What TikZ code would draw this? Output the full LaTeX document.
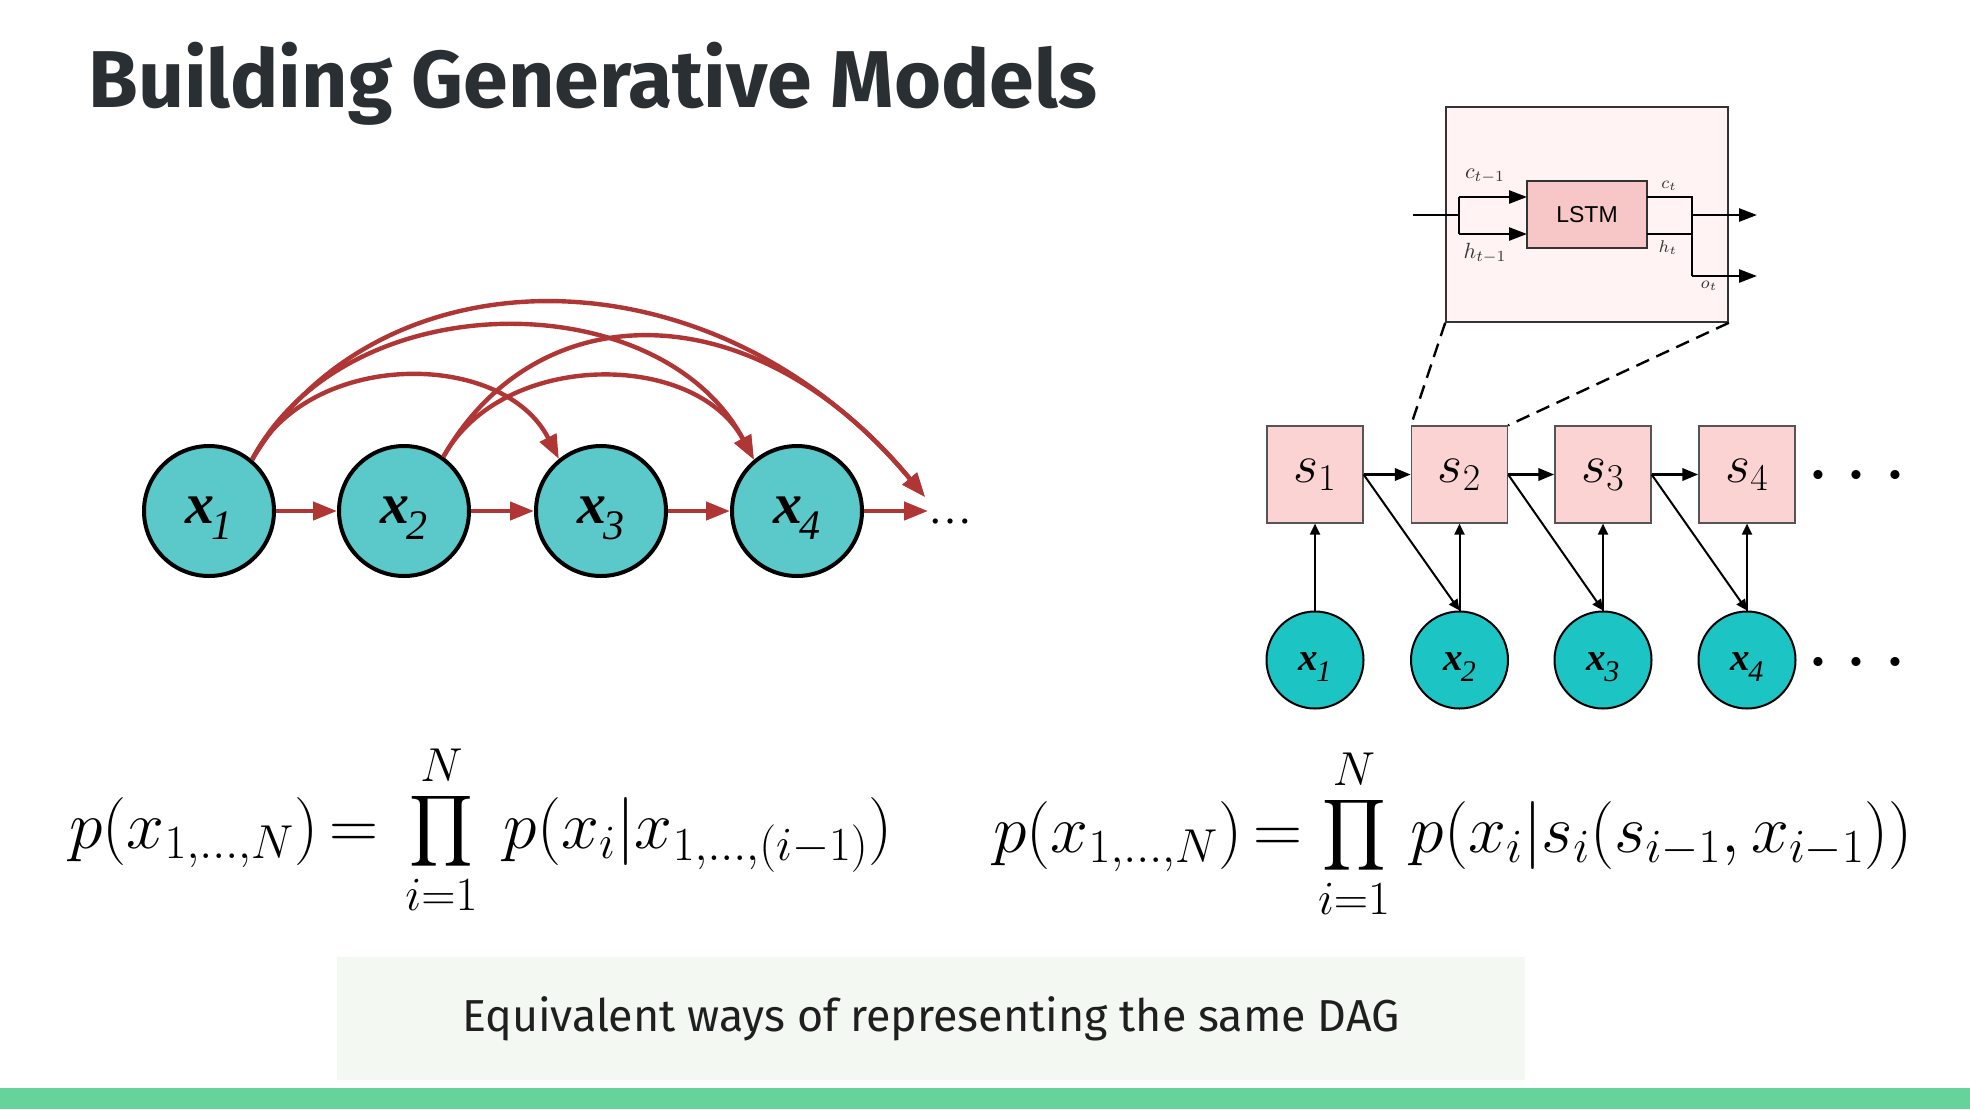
\RequirePackage{fix-cm}
\documentclass[tikz,border=0pt]{standalone}
\usepackage{exscale}
\usepackage{fontspec}
\setsansfont{Fira Sans}
\newfontfamily\tms{Liberation Serif}
\newfontfamily\arl{Liberation Sans}
\usetikzlibrary{arrows.meta}
\definecolor{titlecol}{HTML}{2A2F33}
\definecolor{leftfill}{HTML}{5BC8C9}
\definecolor{arcred}{HTML}{B03535}
\definecolor{rightfill}{HTML}{1DC4C4}
\definecolor{sfill}{HTML}{FBD3D3}
\definecolor{sdraw}{HTML}{555555}
\definecolor{cellfill}{HTML}{FFF3F3}
\definecolor{lstmfill}{HTML}{F7C6C6}
\definecolor{capfill}{HTML}{F3F8F3}
\definecolor{barcol}{HTML}{66D39A}
\newcommand\lx[1]{{\tms\bfseries\itshape\fontsize{29}{29}\selectfont x}\kern-1.5pt\raisebox{-8pt}{\tms\itshape\fontsize{21}{21}\selectfont #1}}
\newcommand\rx[1]{{\tms\bfseries\itshape\fontsize{19.5}{19.5}\selectfont x}\kern-1pt\raisebox{-5.5pt}{\tms\itshape\fontsize{15}{15}\selectfont #1}}
\tikzset{
  lnode/.style={circle, draw=black, line width=2pt, fill=leftfill, minimum size=65pt, inner sep=0pt, text height=18pt, text depth=6pt},
  rnode/.style={circle, draw=black, line width=1pt, fill=rightfill, minimum size=48.5pt, inner sep=0pt, text height=13pt, text depth=3pt},
  sbox/.style={rectangle, draw=sdraw, line width=0.6pt, fill=sfill, minimum width=48pt, minimum height=48.5pt, inner sep=0pt, font=\fontsize{27}{27}\selectfont},
  redarr/.style={draw=arcred, line width=2.2pt, -{Triangle[length=12pt,width=9pt]}, arcred},
  blk/.style={line width=1pt, -{Triangle[length=5.5pt,width=5pt]}},
  blkh/.style={line width=1.6pt, -{Triangle[length=8pt,width=6pt]}},
  lst/.style={line width=1.3pt},
  lstarr/.style={line width=1.3pt, -{Triangle[length=9pt,width=6.5pt]}},
  smlbl/.style={inner sep=0pt, text=black!80, font=\fontsize{11}{11}\selectfont},
  frm/.style={inner sep=0pt, anchor=west, font=\fontsize{34}{34}\selectfont},
}
\begin{document}
\begin{tikzpicture}[x=0.5pt,y=-0.5pt]
\useasboundingbox (0,0) rectangle (1970,1109);
% title
\node[anchor=base west, inner sep=0pt, text=titlecol, font=\sffamily\bfseries\fontsize{40.3}{40.3}\selectfont] (title) at (88,107) {Building Generative Models};

% left graph
\node[lnode] (x1) at (209,511) {\lx{1}};
\node[lnode] (x2) at (404,511) {\lx{2}};
\node[lnode] (x3) at (601,511) {\lx{3}};
\node[lnode] (x4) at (797,511) {\lx{4}};
\node[anchor=base west, inner sep=0pt, font=\tms\fontsize{22}{22}\selectfont] (ldots) at (928,523) {…};
\coordinate (lend) at (925,497);
\draw[redarr] (x1) -- (x2);
\draw[redarr] (x2) -- (x3);
\draw[redarr] (x3) -- (x4);
\draw[redarr] (x4.east) -- (ldots.west |- x4.east);
\draw[redarr] (x1.50) .. controls (308,349) and (503,349) .. (x3.129);
\draw[redarr] (x1.50) .. controls (346,282) and (660,282) .. (x4.130);
\draw[redarr] (x1.50) .. controls (381,245) and (715,245) .. (lend);
\draw[redarr] (x2.54) .. controls (502,350) and (695,350) .. (x4.130);
\draw[redarr] (x2.54) .. controls (538,291) and (755,291) .. (lend);

% right graph
\node[sbox] (s1) at (1315,474.5) {$s_1$};
\node[sbox] (s2) at (1459.5,474.5) {$s_2$};
\node[sbox] (s3) at (1603,474.5) {$s_3$};
\node[sbox] (s4) at (1747,474.5) {$s_4$};
\node[rnode] (r1) at (1315,660) {\rx{1}};
\node[rnode] (r2) at (1459.5,660) {\rx{2}};
\node[rnode] (r3) at (1603,660) {\rx{3}};
\node[rnode] (r4) at (1747,660) {\rx{4}};
\node[anchor=base, inner sep=0pt, font=\fontsize{43}{43}\selectfont] (sdots) at (1857,496.5) {$\cdots$};
\node[anchor=base, inner sep=0pt, font=\fontsize{43}{43}\selectfont] (rdots) at (1857,683.5) {$\cdots$};
\foreach \i in {1,2,3,4} { \draw[blk] (r\i) -- (s\i); }
\draw[blkh] (s1) -- (s2);
\draw[blkh] (s2) -- (s3);
\draw[blkh] (s3) -- (s4);
\draw[blk] (s1.east) -- (r2.north);
\draw[blk] (s2.east) -- (r3.north);
\draw[blk] (s3.east) -- (r4.north);

% LSTM cell
\node[rectangle, draw=black!80, line width=0.8pt, fill=cellfill, minimum width=141pt, minimum height=107.5pt, inner sep=0pt] (cell) at (1587,214.5) {};
\node[rectangle, draw=black!80, line width=0.8pt, fill=lstmfill, minimum width=60pt, minimum height=33.5pt, inner sep=0pt, font=\arl\fontsize{11.5}{11.5}\selectfont] (lstm) at (1587,214.5) {LSTM};
\draw[dashed, line width=1.2pt, dash pattern=on 7pt off 4pt] (cell.south west) -- (s2.north west);
\draw[dashed, line width=1.2pt, dash pattern=on 7pt off 4pt] (cell.south east) -- (s2.north east);
\coordinate (inS) at (1413,215);
\coordinate (jn) at (1459,215);
\coordinate (jc) at (1459,197);
\coordinate (jh) at (1459,234);
\coordinate (ce) at (1527,197);
\coordinate (he) at (1527,234);
\coordinate (oc) at (1647,197);
\coordinate (oh) at (1647,234);
\coordinate (vc) at (1692,197);
\coordinate (vo) at (1692,276);
\coordinate (vm) at (1692,215);
\coordinate (vh) at (1692,234);
\coordinate (out1) at (1757,215);
\coordinate (out2) at (1757,276);
\draw[lst] (inS) -- (jn);
\draw[lst] (jc) -- (jh);
\draw[lstarr] (jc) -- (ce);
\draw[lstarr] (jh) -- (he);
\draw[lst] (oc) -- (vc) -- (vo);
\draw[lst] (oh) -- (vh);
\draw[lstarr] (vm) -- (out1);
\draw[lstarr] (vo) -- (out2);
\node[smlbl] (lc1) at (1485,176) {$c_{t-1}$};
\node[smlbl] (lh1) at (1485,253) {$h_{t-1}$};
\node[smlbl, font=\fontsize{8.5}{8.5}\selectfont] (lc) at (1669,186) {$c_t$};
\node[smlbl, font=\fontsize{8.5}{8.5}\selectfont] (lh) at (1668,248) {$h_t$};
\node[smlbl, font=\fontsize{8.5}{8.5}\selectfont] (lo) at (1709,286) {$o_t$};

% formulas
\node[frm] (f1) at (69,830) {$\displaystyle p(x_{1,\dots,N})\mkern3mu{=}\mkern4mu\prod_{i=1}^{N}\mkern4mu p(x_i|x_{1,\dots,(i-1)})$};
\node[frm] (f2) at (993,834) {$\displaystyle p(x_{1,\dots,N})\mkern3mu{=}\mkern1mu\prod_{i=1}^{N}\mkern2.5mu p(x_i|s_i(s_{i-1},x_{i-1}))$};

% caption
\node[rectangle, fill=capfill, minimum width=594pt, minimum height=61.5pt, inner sep=0pt] (capbox) at (931,1018.5) {};
\node[inner sep=0pt, text=black!88, font=\sffamily\fontsize{22.4}{22.4}\selectfont] (cap) at (931,1019) {Equivalent ways of representing the same DAG};
\fill[barcol] (0,1088) rectangle (1970,1109);
\end{tikzpicture}
\end{document}
